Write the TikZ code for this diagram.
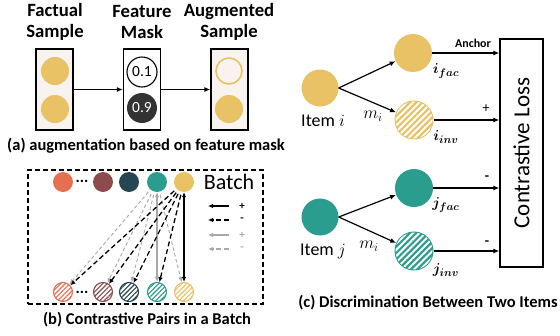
\documentclass[tikz,border=0pt]{standalone}
\usepackage{fontspec}
\setmainfont{Carlito}
\usepackage{amsmath,bm}
\usetikzlibrary{arrows.meta,patterns.meta}
\definecolor{gold}{HTML}{E8C265}
\definecolor{teal}{HTML}{2A9D8F}
\definecolor{orng}{HTML}{E76F51}
\definecolor{brwn}{HTML}{8E4B4B}
\definecolor{dteal}{HTML}{264653}
\definecolor{cream}{HTML}{F8F3EE}
\definecolor{dgray}{HTML}{333333}
\definecolor{lgray}{HTML}{A8A8A8}
\tikzset{
  samplebox/.style={draw=black, line width=1.3pt, minimum width=37pt, minimum height=81pt, inner sep=0pt},
  dot/.style={circle, minimum size=28pt, inner sep=0pt},
  bdot/.style={circle, minimum size=20pt, inner sep=0pt, fill=#1},
  hdot/.style={circle, minimum size=19pt, inner sep=0pt, draw=#1, line width=1.1pt, fill=white,
     postaction={pattern={Lines[angle=45,distance=3.3pt,line width=1.1pt]}, pattern color=#1}},
  cdot/.style={circle, minimum size=38pt, inner sep=0pt, fill=#1},
  idot/.style={circle, minimum size=37pt, inner sep=0pt, draw=#1, line width=2pt, fill=#1,
     postaction={pattern={Lines[angle=45,distance=4.4pt,line width=2pt]}, pattern color=white}},
  conn/.style={line width=1.2pt, -{Latex[length=6pt,width=5pt]}},
  title/.style={font=\fontsize{18.7}{21}\selectfont\bfseries, align=center},
  caption/.style={font=\fontsize{16.5}{19}\selectfont\bfseries},
  blkdash/.style={line width=1.3pt, dash pattern=on 5pt off 3pt, -{Latex[length=5pt,width=4.5pt]}},
  grydash/.style={draw=lgray, line width=0.9pt, dash pattern=on 3.5pt off 2.5pt, -{Latex[length=5pt,width=4.5pt]}},
  blksolid/.style={line width=1.3pt, {Latex[length=5pt,width=4.5pt]}-{Latex[length=5pt,width=4.5pt]}},
  grysolid/.style={draw=lgray, line width=1.3pt, {Latex[length=5pt,width=4.5pt]}-{Latex[length=5pt,width=4.5pt]}},
  lbl/.style={font=\fontsize{11}{13}\selectfont\bfseries},
}
\begin{document}
\begin{tikzpicture}[x=1pt,y=-1pt]
\useasboundingbox (0,0) rectangle (560,335);

% ---------- (a) ----------
\node[title] (t1) at (55,22) {Factual\\Sample};
\node[title] (t2) at (142,22) {Feature\\Mask};
\node[title] (t3) at (229,22) {Augmented\\Sample};
\node[samplebox, fill=cream] (fs) at (54.5,89.5) {};
\node[samplebox, fill=white] (fm) at (142,89.5) {};
\node[samplebox, fill=cream] (as) at (229.5,89.5) {};
\node[dot, fill=gold] (fs1) at (55,71) {};
\node[dot, fill=gold] (fs2) at (55,109) {};
\node[dot, minimum size=30pt, draw=black, line width=1.1pt, fill=white, font=\fontsize{15.5}{17}\selectfont] (fm1) at (142,72) {0.1};
\node[dot, minimum size=30pt, fill=dgray, text=white, font=\fontsize{15.5}{17}\selectfont] (fm2) at (142,108) {0.9};
\node[dot, draw=gold, line width=1.6pt, minimum size=26pt] (as1) at (229,71) {};
\node[dot, fill=gold] (as2) at (229,109) {};
\draw[conn] (fs) -- (fm);
\draw[conn] (fm) -- (as);
\node[caption] (capa) at (146,146) {(a) augmentation based on feature mask};

% ---------- (b) ----------
\node[draw=black, line width=1.3pt, dash pattern=on 5pt off 3pt, minimum width=235pt, minimum height=134pt, inner sep=0pt] (batchbox) at (145.5,237) {};
\node[bdot=orng] (u1) at (63,182) {};
\node[bdot=brwn] (u2) at (103,182) {};
\node[bdot=dteal] (u3) at (129,182) {};
\node[bdot=teal] (u4) at (157,182) {};
\node[bdot=gold] (u5) at (184,182) {};
\node[font=\fontsize{16}{18}\selectfont\bfseries] (ud) at (82,181) {...};
\node[font=\fontsize{22}{26}\selectfont] (bt) at (229,182) {Batch};
\node[hdot=orng] (d1) at (63,292) {};
\node[hdot=brwn] (d2) at (103,292) {};
\node[hdot=dteal] (d3) at (129,292) {};
\node[hdot=teal] (d4) at (157,292) {};
\node[hdot=gold] (d5) at (184,292) {};
\node[font=\fontsize{16}{18}\selectfont\bfseries] (dd) at (82,292) {...};
% gray (from teal)
\draw[grydash, shorten <=3pt] (u4) -- (d1);
\draw[grydash, shorten <=3pt] (u4) -- (d2);
\draw[grydash, shorten <=3pt] (u4) -- (d3);
\draw[grydash, shorten <=3pt] (u4) -- (d5);
\draw[grysolid] (u4) -- (d4);
% black (from gold)
\draw[blkdash, shorten <=3pt] (u5) -- (d1);
\draw[blkdash, shorten <=3pt] (u5) -- (d2);
\draw[blkdash, shorten <=3pt] (u5) -- (d3);
\draw[blkdash, shorten <=3pt] (u5) -- (d4);
\draw[blksolid] (u5) -- (d5);
% legend
\coordinate (l1a) at (229,206); \coordinate (l1b) at (208,206);
\coordinate (l2a) at (229,220); \coordinate (l2b) at (208,220);
\coordinate (l3a) at (229,235); \coordinate (l3b) at (208,235);
\coordinate (l4a) at (229,249); \coordinate (l4b) at (208,249);
\draw[line width=1.3pt, -{Latex[length=5pt,width=4.5pt]}] (l1a) -- (l1b);
\draw[line width=1.3pt, dash pattern=on 5pt off 3pt, -{Latex[length=5pt,width=4.5pt]}] (l2a) -- (l2b);
\draw[draw=lgray, line width=1.3pt, -{Latex[length=5pt,width=4.5pt]}] (l3a) -- (l3b);
\draw[draw=lgray, line width=1.3pt, dash pattern=on 5pt off 3pt, -{Latex[length=5pt,width=4.5pt]}] (l4a) -- (l4b);
\node[lbl] (p1) at (242,206) {+};
\node[lbl] (p2) at (242,220) {-};
\node[lbl, text=lgray] (p3) at (242,235) {+};
\node[lbl, text=lgray] (p4) at (242,249) {-};
\node[caption] (capb) at (147,320) {(b) Contrastive Pairs in a Batch};

% ---------- (c) ----------
\node[draw=black, line width=1.3pt, minimum width=43pt, minimum height=228pt, inner sep=0pt] (loss) at (521.5,153) {};
\node[rotate=90, font=\fontsize{23}{27}\selectfont] (losst) at (loss.center) {Contrastive Loss};
\node[cdot=gold, minimum size=37pt] (ii) at (320,88) {};
\node[cdot=gold] (ifac) at (413,53) {};
\node[idot=gold] (iinv) at (414,120) {};
\node[cdot=teal, minimum size=37pt] (jj) at (320,217) {};
\node[cdot=teal] (jfac) at (414,188) {};
\node[idot=teal] (jinv) at (414,251) {};
\draw[conn] (ii.east) -- (ifac);
\draw[conn] (ii.east) -- (iinv);
\draw[conn] (jj.east) -- (jfac);
\draw[conn] (jj.east) -- (jinv);
\draw[conn] (ifac.east) -- (ifac.east -| loss.west);
\draw[conn] (iinv.east) -- (iinv.east -| loss.west);
\draw[conn] (jfac.east) -- (jfac.east -| loss.west);
\draw[conn] (jinv.east) -- (jinv.east -| loss.west);
\node[font=\fontsize{18}{21}\selectfont] (iil) at (323,121) {Item $i$};
\node[font=\fontsize{18}{21}\selectfont] (jjl) at (323,251) {Item $j$};
\node[font=\fontsize{17}{20}\selectfont] (mi1) at (373,116) {$m_i$};
\node[font=\fontsize{17}{20}\selectfont] (mi2) at (369,246) {$m_i$};
\node[font=\fontsize{15}{18}\selectfont] (ifl) at (446,71) {$\bm{i_{fac}}$};
\node[font=\fontsize{15}{18}\selectfont] (iil2) at (446,137) {$\bm{i_{inv}}$};
\node[font=\fontsize{15}{18}\selectfont] (jfl) at (446,205) {$\bm{j_{fac}}$};
\node[font=\fontsize{15}{18}\selectfont] (jil) at (446,270) {$\bm{j_{inv}}$};
\node[lbl, font=\fontsize{12}{14}\selectfont\bfseries] (anc) at (473,43) {Anchor};
\node[font=\fontsize{14}{16}\selectfont] (plus) at (486,109) {+};
\node[font=\fontsize{14}{16}\selectfont\bfseries] (m1) at (487,178) {-};
\node[font=\fontsize{14}{16}\selectfont\bfseries] (m2) at (487,243) {-};
\node[caption] (capc) at (428,303) {(c) Discrimination Between Two Items};
\end{tikzpicture}
\end{document}
